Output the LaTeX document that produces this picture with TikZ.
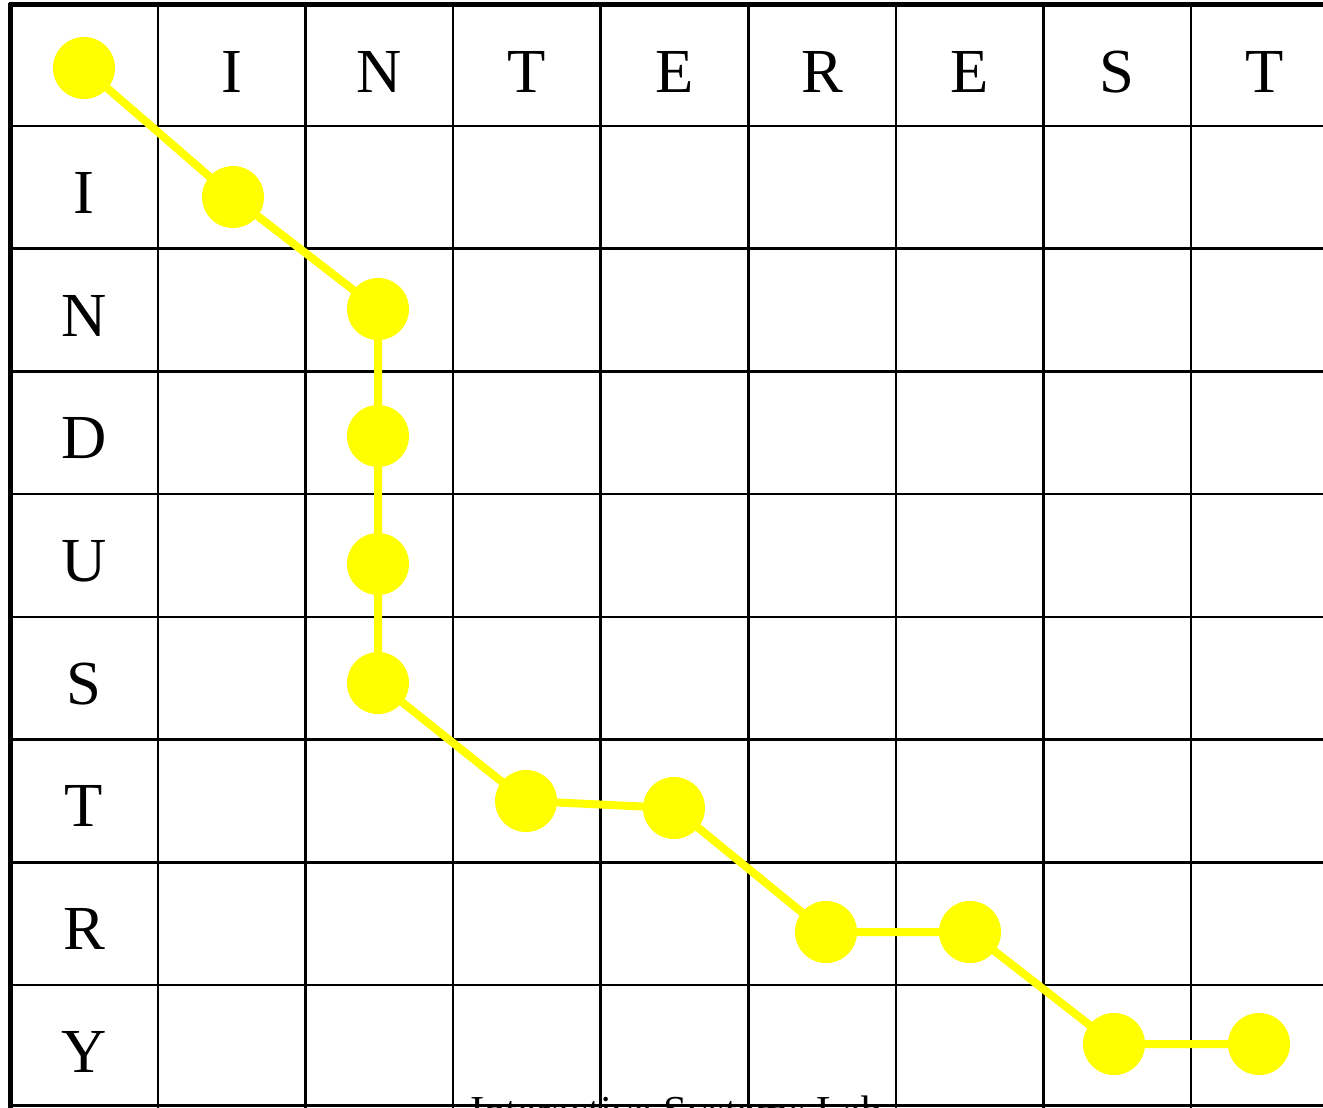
\documentclass[tikz,border=0pt]{standalone}
\usepackage{fontspec}
\setmainfont{Liberation Serif}
\definecolor{pathyellow}{RGB}{255,255,0}
\begin{document}
\begin{tikzpicture}[x=0.75pt,y=-0.75pt,
  gridline/.style={line width=2pt,black},
  frameline/.style={line width=3.75pt,black},
  yellowline/.style={line width=6pt,pathyellow},
  dot/.style={circle,fill=pathyellow,inner sep=0pt,minimum size=46.5pt},
  letter/.style={anchor=base,inner sep=0pt,font=\fontsize{47}{56}\selectfont},
  footer/.style={anchor=base west,inner sep=0pt,font=\fontsize{32}{38}\selectfont}]
\useasboundingbox (0,0) rectangle (1323,1107);
\clip (0,0) rectangle (1323,1107);
\fill[white] (0,0) rectangle (1323,1107);
% footer text (cut off by the lower edge)
\node[footer] (foot) at (470,1125) {Interactive Systems Lab};
% grid
\foreach \k in {0,...,7} {
  \draw[gridline] (10.5,{126+122.71*\k}) -- (1330,{126+122.71*\k});
}
\draw[gridline] (10.5,1105.5) -- (1330,1105.5);
\foreach \k in {0,...,7} {
  \draw[gridline] ({158+147.57*\k},4.5) -- ({158+147.57*\k},1110);
}
\draw[frameline] (8.6,4.5) -- (1330,4.5);
\draw[frameline] (10.5,2.6) -- (10.5,1110);
% header letters
\foreach \t [count=\i] in {I,N,T,E,R,E,S,T} {
  \node[letter] (h\i) at ({158+147.57*(\i-0.5)},92) {\t};
}
\foreach \t [count=\j] in {I,N,D,U,S,T,R,Y} {
  \node[letter] (r\j) at (84,{126+122.71*(\j-0.5)+26}) {\t};
}
% path
\coordinate (p1) at (84,68);
\coordinate (p2) at (233,197);
\coordinate (p3) at (378,309);
\coordinate (p4) at (378,436);
\coordinate (p5) at (378,564);
\coordinate (p6) at (378,683);
\coordinate (p7) at (526,801);
\coordinate (p8) at (674,808);
\coordinate (p9) at (826,932);
\coordinate (p10) at (970,932);
\coordinate (p11) at (1114,1044);
\coordinate (p12) at (1259,1044);
\draw[yellowline] (p1) -- (p2) -- (p3) -- (p4) -- (p5) -- (p6) -- (p7) -- (p8) -- (p9) -- (p10) -- (p11) -- (p12);
\foreach \n in {1,...,12} {
  \node[dot] (d\n) at (p\n) {};
}
\end{tikzpicture}
\end{document}
